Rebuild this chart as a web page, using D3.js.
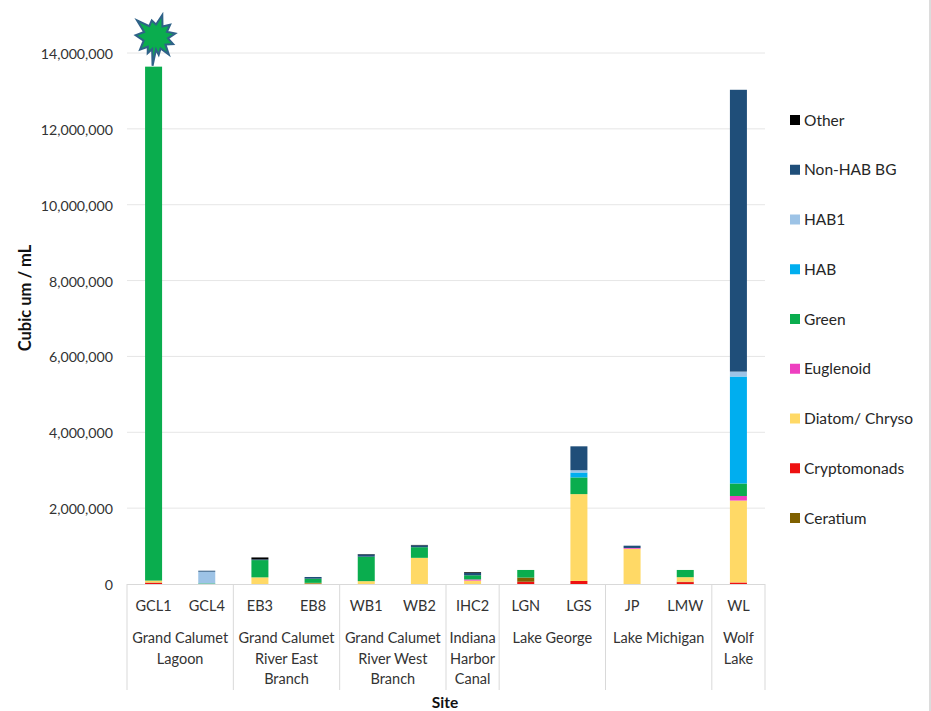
<!DOCTYPE html>
<html>
<head>
<meta charset="utf-8">
<script src="https://cdnjs.cloudflare.com/ajax/libs/d3/7.8.5/d3.min.js"></script>
<style>
  html, body { margin: 0; padding: 0; background: #fff; }
  svg { display: block; font-family: Lato, "Open Sans", sans-serif; }
</style>
</head>
<body>
<svg id="chart" width="931" height="711"></svg>
<script>
// Biovolume by site, one stacked bar per site, grouped by water body.
const sites = ["GCL1","GCL4","EB3","EB8","WB1","WB2","IHC2","LGN","LGS","JP","LMW","WL"];
const groups = [
  { lines: ["Grand Calumet","Lagoon"], span: 2 },
  { lines: ["Grand Calumet","River East","Branch"], span: 2 },
  { lines: ["Grand Calumet","River West","Branch"], span: 2 },
  { lines: ["Indiana","Harbor","Canal"], span: 1 },
  { lines: ["Lake George"], span: 2 },
  { lines: ["Lake Michigan"], span: 2 },
  { lines: ["Wolf","Lake"], span: 1 }
];
const taxa = ["Ceratium","Cryptomonads","Diatom/ Chryso","Euglenoid","Green","HAB","HAB1","Non-HAB BG","Other"];
const taxaColors = ["#7f6000","#ee1111","#ffd966","#ee3fc0","#0aad4e","#00aeef","#9dc3e6","#1f4e79","#000000"];
const stackOrder = [1,0,2,3,4,5,6,7,8];
const yTicks = [0,2000000,4000000,6000000,8000000,10000000,12000000,14000000];

const ceratium     = [10000,0,0,20000,0,0,0,110000,0,0,10000,0];
const cryptomonads = [30000,0,0,0,0,0,0,60000,80000,0,50000,40000];
const diatom       = [50000,0,175000,10000,75000,690000,90000,0,2290000,930000,120000,2160000];
const euglenoid    = [0,0,0,0,0,0,30000,0,0,20000,0,120000];
const green        = [13550000,15000,455000,110000,645000,280000,110000,200000,440000,0,190000,330000];
const hab          = [0,0,0,0,0,0,0,0,130000,0,0,2820000];
const hab1         = [0,310000,0,0,0,0,0,0,60000,0,0,130000];
const nonHabBg     = [0,25000,20000,45000,60000,50000,60000,0,630000,60000,0,7430000];
const other        = [0,0,50000,0,10000,10000,20000,0,0,0,0,0];
const taxaValues = [ceratium,cryptomonads,diatom,euglenoid,green,hab,hab1,nonHabBg,other];

// Starburst outline: tip bearings in degrees clockwise from north, and tip lengths
const burstTipAngles = [17,50,80,112,143,170,186,206,231,275,312,347];
const burstTipRadii  = [23,19,20,19,22,18,29,18,20,20,25,17];
const burstValleyRadius = 12.5;

const svg = d3.select("#chart");
const plot = { left: 127, right: 765, top: 53, bottom: 584 };

const x = d3.scaleBand().domain(sites).range([plot.left, plot.right]);
const y = d3.scaleLinear().domain([0,14000000]).range([plot.bottom, plot.top]);

// Frame edge down the right side of the sheet
svg.append("rect").attr("x",929).attr("y",0).attr("width",2).attr("height",711).attr("fill","#dcdcdc");

// Horizontal gridlines and value labels
svg.append("g").selectAll("line").data(yTicks.slice(1)).join("line")
  .attr("x1",plot.left).attr("x2",plot.right)
  .attr("y1",d=>y(d)).attr("y2",d=>y(d))
  .attr("stroke","#e6e6e6").attr("stroke-width",1);

const yAxis = d3.axisLeft(y).tickValues(yTicks).tickSize(0).tickPadding(0).tickFormat(d3.format(","));
svg.append("g").attr("transform",`translate(${plot.left-14},1)`).call(yAxis)
  .call(g=>g.select(".domain").remove())
  .call(g=>g.selectAll("text").attr("font-size",14.2).attr("fill","#333").attr("font-family","Lato, sans-serif"));

// Stacked bars
const barWidth = 17;
const stack = d3.stack().keys(stackOrder).value((d,k)=>taxaValues[k][d]);
const layers = stack(d3.range(sites.length));
svg.append("g").selectAll("g").data(layers).join("g")
  .attr("fill",d=>taxaColors[d.key])
  .selectAll("rect").data(d=>d.map((v,i)=>({v,i}))).join("rect")
  .attr("x",d=>x(sites[d.i])+x.bandwidth()/2-barWidth/2)
  .attr("width",barWidth)
  .attr("y",d=>y(d.v[1]))
  .attr("height",d=>y(d.v[0])-y(d.v[1]));

// Starburst flag above the tallest bar
const burstPoints = [];
burstTipAngles.forEach((a,i)=>{
  const next = burstTipAngles[(i+1)%burstTipAngles.length] + (i===burstTipAngles.length-1?360:0);
  burstPoints.push([a, burstTipRadii[i]]);
  burstPoints.push([(a+next)/2, burstValleyRadius]);
});
const burst = d3.lineRadial().curve(d3.curveLinearClosed)
  .angle(p=>p[0]*Math.PI/180).radius(p=>p[1]);
svg.append("path").attr("transform",`translate(${x("GCL1")+x.bandwidth()/2+2},37)`)
  .attr("d",burst(burstPoints))
  .attr("fill","#0aad4e").attr("stroke","#2f6288").attr("stroke-width",2).attr("stroke-linejoin","miter");

// Two-level category axis: baseline, site codes, group names, dividers
const axisG = svg.append("g");
axisG.append("line").attr("x1",plot.left).attr("x2",plot.right)
  .attr("y1",plot.bottom+.5).attr("y2",plot.bottom+.5).attr("stroke","#d9d9d9");

axisG.selectAll("text.site").data(sites).join("text").attr("class","site")
  .attr("x",d=>x(d)+x.bandwidth()/2).attr("y",611).attr("text-anchor","middle")
  .attr("font-size",14.5).attr("fill","#333").text(d=>d);

let cursor = 0;
const boundaries = [0];
groups.forEach(g=>{ g.start = cursor; cursor += g.span; boundaries.push(cursor); });
axisG.selectAll("line.div").data(boundaries).join("line").attr("class","div")
  .attr("x1",i=>plot.left+i*x.step()).attr("x2",i=>plot.left+i*x.step())
  .attr("y1",plot.bottom).attr("y2",690).attr("stroke","#d9d9d9");

groups.forEach(g=>{
  const cx = plot.left + (g.start + g.span/2)*x.step();
  g.lines.forEach((t,i)=>{
    axisG.append("text").attr("x",cx).attr("y",643+i*20.5).attr("text-anchor","middle")
      .attr("font-size",14.5).attr("fill","#333").text(t);
  });
});

// Axis titles
svg.append("text").attr("x",445).attr("y",708).attr("text-anchor","middle")
  .attr("font-size",15.5).attr("font-weight","bold").attr("fill","#111").text("Site");
svg.append("text").attr("transform","translate(31,298) rotate(-90)").attr("text-anchor","middle")
  .attr("font-size",16.5).attr("font-weight","bold").attr("fill","#111").text("Cubic um / mL");

// Legend, topmost stack layer first
const legendY = d3.scalePoint().domain(d3.range(taxa.length).reverse()).range([120,518]);
const legend = svg.append("g").selectAll("g").data(d3.range(taxa.length)).join("g")
  .attr("transform",k=>`translate(790,${legendY(k)})`);
legend.append("rect").attr("x",0).attr("y",-5).attr("width",10).attr("height",10).attr("fill",k=>taxaColors[k]);
legend.append("text").attr("x",14).attr("y",5.5).attr("font-size",15.5).attr("fill","#262626").text(k=>taxa[k]);
</script>
</body>
</html>
